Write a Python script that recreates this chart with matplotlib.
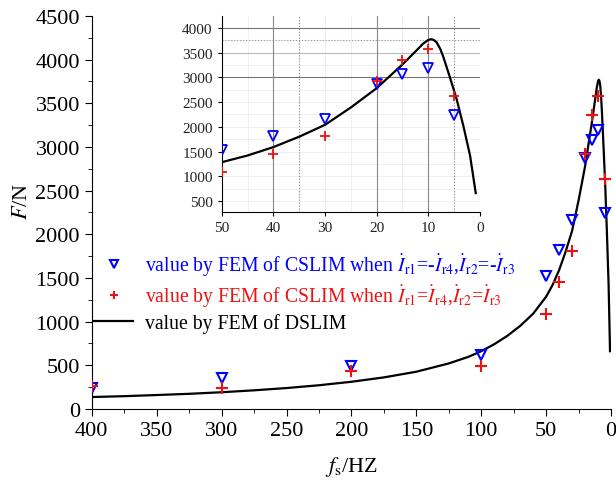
import numpy as np
import matplotlib.pyplot as plt
from matplotlib.ticker import MultipleLocator

plt.rcParams['font.family'] = 'serif'
plt.rcParams['font.serif'] = ['Liberation Serif', 'DejaVu Serif']
plt.rcParams['mathtext.fontset'] = 'stix'

# DSLIM curve
f_dslim = [400, 375, 350, 325, 300, 275, 250, 225, 200, 175, 150, 125, 110, 100, 90, 80,
           70, 60, 50, 45, 40, 35, 30, 25, 20, 17.5, 15, 12.5, 11, 10, 9.5, 9, 8.4,
           7.7, 7.1, 5.8, 4.5, 3.2, 1.9, 0.8]
F_dslim = [135, 145, 158, 172, 190, 212, 238, 270, 310, 360, 425, 520, 595, 660, 740, 835,
           950, 1090, 1285, 1420, 1590, 1800, 2040, 2390, 2780, 3020, 3260, 3520, 3680,
           3755, 3770, 3760, 3710, 3580, 3420, 3000, 2560, 2020, 1420, 660]

# CSLIM, Ir1=-Ir4, Ir2=-Ir3
f_anti = [400, 300, 200, 100, 50, 40, 30, 20, 15, 10, 5]
F_anti = [237, 351, 485, 611, 1527, 1815, 2165, 2870, 3075, 3190, 2244]

# CSLIM, Ir1=Ir4, Ir2=Ir3
f_same = [400, 300, 200, 100, 50, 40, 30, 20, 15, 10, 5]
F_same = [265, 237, 439, 496, 1088, 1450, 1812, 2920, 3360, 3580, 2630]

fig = plt.figure(figsize=(6.16, 4.85), dpi=100)
ax = fig.add_axes([0.149, 0.155, 0.843, 0.81])

ax.plot(f_dslim, F_dslim, color='black', lw=1.6, label='value by FEM of DSLIM', zorder=2)
ax.plot(f_anti, F_anti, linestyle='none', marker='v', ms=7, mfc='none', mec='blue', mew=1.5,
        label=r'value by FEM of CSLIM when $\dot{I}_{\rm r1}$=-$\dot{I}_{\rm r4}$,$\dot{I}_{\rm r2}$=-$\dot{I}_{\rm r3}$',
        zorder=3)
ax.plot(f_same, F_same, linestyle='none', marker='+', ms=8, mec='#ee1111', mew=1.5,
        label=r'value by FEM of CSLIM when $\dot{I}_{\rm r1}$=$\dot{I}_{\rm r4}$,$\dot{I}_{\rm r2}$=$\dot{I}_{\rm r3}$',
        zorder=3)

ax.set_xlim(400, 0)
ax.set_ylim(0, 4500)
ax.xaxis.set_major_locator(MultipleLocator(50))
ax.xaxis.set_minor_locator(MultipleLocator(25))
ax.yaxis.set_major_locator(MultipleLocator(500))
ax.yaxis.set_minor_locator(MultipleLocator(250))
ax.tick_params(which='major', direction='out', length=5, labelsize=16)
ax.tick_params(which='minor', direction='out', length=3)
ax.spines['top'].set_visible(False)
ax.spines['right'].set_visible(False)
ax.set_xlabel(r'$f_{\rm s}$/HZ', fontsize=16, labelpad=10)
ax.set_ylabel(r'$F$/N', fontsize=16)
ax.yaxis.set_label_coords(-0.115, 0.53)

handles, labels = ax.get_legend_handles_labels()
order = [1, 2, 0]
leg = ax.legend([handles[i] for i in order], [labels[i] for i in order],
                loc='upper left', bbox_to_anchor=(-0.03, 0.445), frameon=False,
                fontsize=14.2, handlelength=2.0, handletextpad=0.6, labelspacing=0.22,
                markerscale=0.75)
for txt, c in zip(leg.get_texts(), ['blue', '#ee1111', 'black']):
    txt.set_color(c)

# inset zoom of the low-frequency range
ins = fig.add_axes([0.360, 0.561, 0.419, 0.404])
ins.set_xlim(50, 0)
ins.set_ylim(280, 4240)
for y in np.arange(500, 4250, 250):
    ins.axhline(y, color='#eeeeee', lw=0.6, zorder=0)
for x in np.arange(5, 50, 5):
    ins.axvline(x, color='#eeeeee', lw=0.6, zorder=0)
for y, c, ls in [(3000, '#777777', '-'), (3500, '#bbbbbb', '-'), (3750, '#999999', ':'), (4000, '#777777', '-')]:
    ins.axhline(y, color=c, lw=0.8, ls=ls, zorder=0)
for x, ls in [(40, '-'), (35, ':'), (20, '-'), (10, '-'), (5, ':')]:
    ins.axvline(x, color='#888888', lw=0.8, ls=ls, zorder=0)
ins.plot(f_dslim, F_dslim, color='black', lw=1.6, zorder=2)
ins.plot(f_anti, F_anti, linestyle='none', marker='v', ms=7, mfc='none', mec='blue', mew=1.3, zorder=3)
ins.plot(f_same, F_same, linestyle='none', marker='+', ms=7, mec='#ee1111', mew=1.3, zorder=3)
ins.set_xticks([50, 40, 30, 20, 10, 0])
ins.set_yticks(np.arange(500, 4001, 500))
ins.tick_params(direction='out', length=3, labelsize=11, labelcolor='#222222')
ins.spines['top'].set_visible(False)
ins.spines['right'].set_visible(False)
ins.patch.set_alpha(0)

fig.savefig('out.png', dpi=100)
